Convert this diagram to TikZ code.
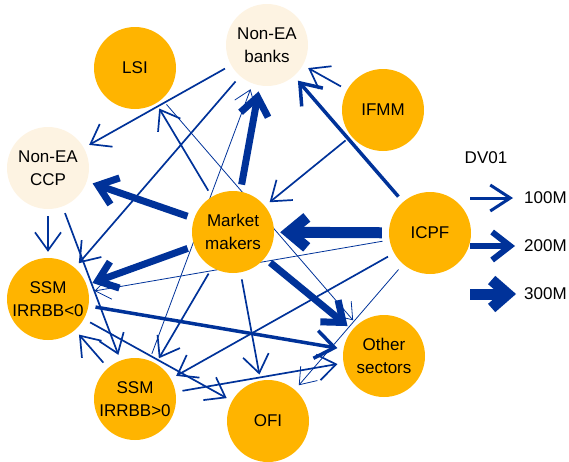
\documentclass[tikz,border=0pt]{standalone}
\usepackage{fontspec}
\setmainfont{Liberation Sans}
\usetikzlibrary{arrows.meta}
\definecolor{ecbblue}{RGB}{0,50,153}
\definecolor{ecbyellow}{RGB}{255,180,0}
\definecolor{ecbcream}{RGB}{253,243,226}
\pgfdeclarelayer{background}
\pgfsetlayers{background,main}
\tikzset{
 nd/.style={circle, minimum size=82pt, inner sep=0pt, font=\fontsize{17}{23}\selectfont, align=center, text=black},
 org/.style={nd, fill=ecbyellow},
 crm/.style={nd, fill=ecbcream},
 ed/.style={draw=ecbblue, shorten >=6pt, shorten <=7pt},
 wa/.style={ed, line width=0.8pt, -{Straight Barb[sharp,length=15pt,width=22pt]}},
 wb/.style={ed, line width=1.7pt, -{Straight Barb[sharp,length=18pt,width=26pt]}},
 wc/.style={ed, line width=3.5pt, -{Straight Barb[sharp,length=19pt,width=28pt]}},
 wd/.style={ed, line width=7pt, -{Straight Barb[sharp,length=18pt,width=28pt]}},
 we/.style={ed, line width=11pt, -{Straight Barb[sharp,length=18pt,width=30pt]}},
 legtxt/.style={font=\fontsize{17}{23}\selectfont, text=black, inner sep=0pt},
}
\begin{document}
\begin{tikzpicture}[x=1pt,y=-1pt]
\useasboundingbox (0,0) rectangle (569,461);
\node[org] (lsi) at (135,68) {LSI};
\node[crm] (nb) at (267,45) {Non-EA\\banks};
\node[org] (ifmm) at (383,110) {IFMM};
\node[crm] (ccp) at (48,168) {Non-EA\\CCP};
\node[org] (mm) at (233,232) {Market\\makers};
\node[org] (icpf) at (430,233) {ICPF};
\node[org] (s0) at (48,299) {SSM\\IRRBB<0};
\node[org] (s1) at (135,399) {SSM\\IRRBB>0};
\node[org] (ofi) at (268,421) {OFI};
\node[org] (oth) at (384,356) {Other\\sectors};
\begin{pgfonlayer}{background}
\draw[wa] (lsi) -- (oth);
\draw[wa] (s1) -- (nb);
\draw[wa] (icpf) -- (s0);
\draw[wa] (icpf) -- (ofi);
\draw[wb] (nb) -- (ccp);
\draw[wb] (nb) -- (s0);
\draw[wb] (mm) -- (lsi);
\draw[wb] (ifmm) -- (mm);
\draw[wb] (ifmm) -- (nb);
\draw[wb] (ccp) -- (s0);
\draw[wb] (ccp) -- (s1);
\draw[wb] (icpf) -- (s1);
\draw[wb] (mm) -- (ofi);
\draw[wb] (mm) -- (s1);
\draw[wb] (s0) -- (ofi);
\draw[wb] (s1) -- (s0);
\draw[wb] (s1) -- (oth);
\draw[wc] (icpf) -- (nb);
\draw[wc] (s0) -- (oth);
\draw[wd] (mm) -- (nb);
\draw[wd] (mm) -- (ccp);
\draw[wd] (mm) -- (s0);
\draw[wd] (mm) -- (oth);
\draw[we] (icpf) -- (mm);
\end{pgfonlayer}
\node[legtxt] (dv) at (486,158) {DV01};
\coordinate (l1a) at (470,198);
\coordinate (l1b) at (513,198);
\coordinate (l2a) at (470,246);
\coordinate (l2b) at (515,246);
\coordinate (l3a) at (470,294);
\coordinate (l3b) at (516,294);
\node[legtxt, anchor=west] (t1) at (524,198) {100M};
\node[legtxt, anchor=west] (t2) at (524,246) {200M};
\node[legtxt, anchor=west] (t3) at (524,294) {300M};
\draw[draw=ecbblue, line width=3pt, -{Straight Barb[sharp,length=20pt,width=26pt]}] (l1a) -- (l1b);
\draw[draw=ecbblue, line width=6pt, -{Straight Barb[sharp,length=18pt,width=28pt]}] (l2a) -- (l2b);
\draw[draw=ecbblue, line width=11pt, -{Straight Barb[sharp,length=16pt,width=28pt]}] (l3a) -- (l3b);
\end{tikzpicture}
\end{document}
